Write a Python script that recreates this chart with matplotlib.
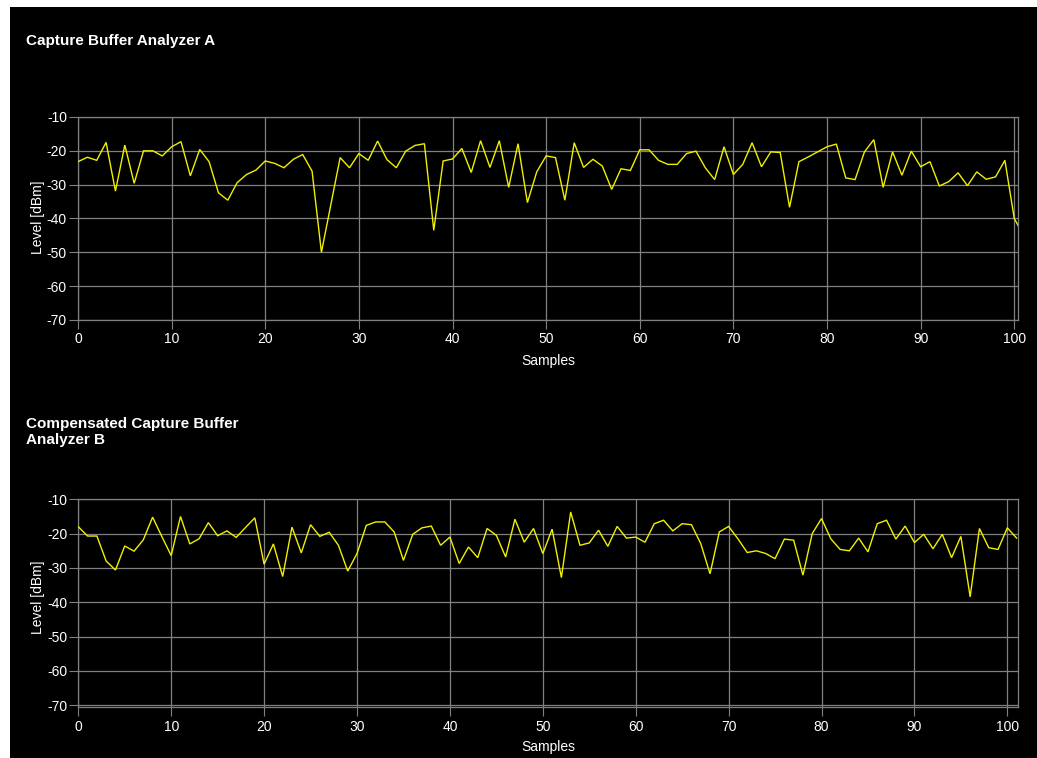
import matplotlib
matplotlib.use("Agg")
import matplotlib.pyplot as plt
from matplotlib.patches import Rectangle

W, H = 1037, 758

# Capture buffer levels in dBm, one value per sample index
samples = list(range(102))
level_a = [
    -23.2, -21.9, -22.8, -17.5, -31.9, -18.3, -29.6, -20.0, -20.0, -21.5,
    -18.8, -17.3, -27.4, -19.6, -23.2, -32.4, -34.6, -29.4, -27.0, -25.7,
    -23.0, -23.7, -25.0, -22.5, -21.1, -26.0, -50.0, -36.0, -22.0, -25.0,
    -20.8, -22.8, -17.1, -22.6, -25.0, -20.1, -18.4, -17.9, -43.5, -23.0,
    -22.4, -19.3, -26.4, -17.0, -24.9, -17.0, -30.8, -17.9, -35.3, -26.2,
    -21.5, -22.0, -34.6, -17.6, -24.9, -22.5, -24.5, -31.4, -25.3, -25.8,
    -19.7, -19.7, -22.8, -24.0, -24.0, -20.8, -20.1, -25.0, -28.5, -18.8,
    -27.0, -24.0, -17.6, -24.7, -20.3, -20.5, -36.7, -23.2, -21.8, -20.3,
    -18.8, -18.0, -28.0, -28.5, -20.3, -16.7, -30.8, -20.3, -27.2, -20.1,
    -24.7, -23.2, -30.4, -29.1, -26.5, -30.3, -26.2, -28.4, -27.7, -22.8,
    -40.0, -45.0,
]
level_b = [
    -18.0, -20.7, -20.7, -28.0, -30.6, -23.6, -25.1, -21.8, -15.2, -20.9,
    -26.4, -15.0, -23.0, -21.5, -16.8, -20.6, -19.2, -21.1, -18.2, -15.4,
    -28.9, -23.0, -32.5, -18.1, -25.6, -17.4, -20.8, -19.6, -23.4, -30.9,
    -25.8, -17.6, -16.6, -16.6, -19.5, -27.8, -20.2, -18.3, -17.8, -23.4,
    -21.0, -28.7, -23.9, -27.0, -18.5, -20.5, -26.8, -15.8, -22.5, -18.5,
    -25.8, -18.7, -32.8, -13.7, -23.4, -22.7, -19.0, -23.7, -17.9, -21.3,
    -21.0, -22.5, -17.1, -16.1, -19.2, -17.1, -17.4, -22.9, -31.7, -19.5,
    -17.9, -21.5, -25.5, -25.0, -25.8, -27.3, -21.6, -21.9, -32.1, -20.0,
    -15.6, -21.5, -24.6, -25.0, -21.3, -25.3, -17.1, -16.1, -21.6, -17.8,
    -22.6, -20.2, -24.4, -20.2, -27.0, -20.8, -38.4, -18.5, -24.1, -24.6,
    -18.3, -21.3,
]

x_ticks = [0, 10, 20, 30, 40, 50, 60, 70, 80, 90, 100]
y_ticks = [-10, -20, -30, -40, -50, -60, -70]

title_a = "Capture Buffer Analyzer A"
title_b = ["Compensated Capture Buffer", "Analyzer B"]
x_label = "Samples"
y_label = "Level [dBm]"

GRID = "#808080"
TRACE = "#F0F000"
TEXT = "#FFFFFF"
REG = dict(family=["Liberation Sans", "DejaVu Sans"], size=10, color=TEXT)
BOLD = dict(family=["Liberation Sans", "DejaVu Sans"], size=11,
            weight="bold", color=TEXT)


def fx(px):
    return px / W


def fy(py):
    return 1 - py / H


fig = plt.figure(figsize=(W / 100, H / 100), dpi=100, facecolor="white")
fig.patches.append(Rectangle((fx(10), 0), 1 - fx(10), fy(7),
                             transform=fig.transFigure, facecolor="black",
                             edgecolor="none", zorder=-10))


def make_panel(left, top, right, bottom, xmax, ymin, values):
    ax = fig.add_axes([fx(left), fy(bottom), fx(right - left),
                       (bottom - top) / H])
    ax.set_facecolor("black")
    ax.plot(samples, values, color=TRACE, lw=1.0, solid_joinstyle="miter",
            zorder=3)
    ax.set_xlim(0, xmax)
    ax.set_ylim(ymin, -10)
    ax.set_xticks(x_ticks)
    ax.set_yticks(y_ticks)
    ax.set_xticklabels([str(v) for v in x_ticks], **REG)
    ax.set_yticklabels([str(v) for v in y_ticks], **REG)
    ax.grid(True, color=GRID, lw=0.9)
    ax.set_axisbelow(True)
    for s in ax.spines.values():
        s.set_color(GRID)
        s.set_linewidth(0.9)
    ax.tick_params(axis="both", color=GRID, length=6.5, width=0.8,
                   direction="out")
    ax.tick_params(axis="y", pad=1.5)
    ax.tick_params(axis="x", pad=2.5)
    return ax


ax_a = make_panel(78, 117, 1018, 320, 100.4, -70, level_a)
ax_b = make_panel(78.3, 499.3, 1018, 707.3, 101.15, -70.58, level_b)

# titles
fig.text(fx(26), fy(45), title_a, ha="left", va="baseline", **BOLD)
fig.text(fx(26), fy(427.7), title_b[0], ha="left", va="baseline", **BOLD)
fig.text(fx(26), fy(444.3), title_b[1], ha="left", va="baseline", **BOLD)

# axis labels
fig.text(fx(548), fy(364.5), x_label, ha="center", va="baseline", **REG)
fig.text(fx(548), fy(750.5), x_label, ha="center", va="baseline", **REG)
fig.text(fx(38), fy(217.5), y_label, ha="center", va="center",
         rotation=90, **REG)
fig.text(fx(38), fy(597.5), y_label, ha="center", va="center",
         rotation=90, **REG)

fig.savefig("out.png", dpi=100, facecolor="white")
